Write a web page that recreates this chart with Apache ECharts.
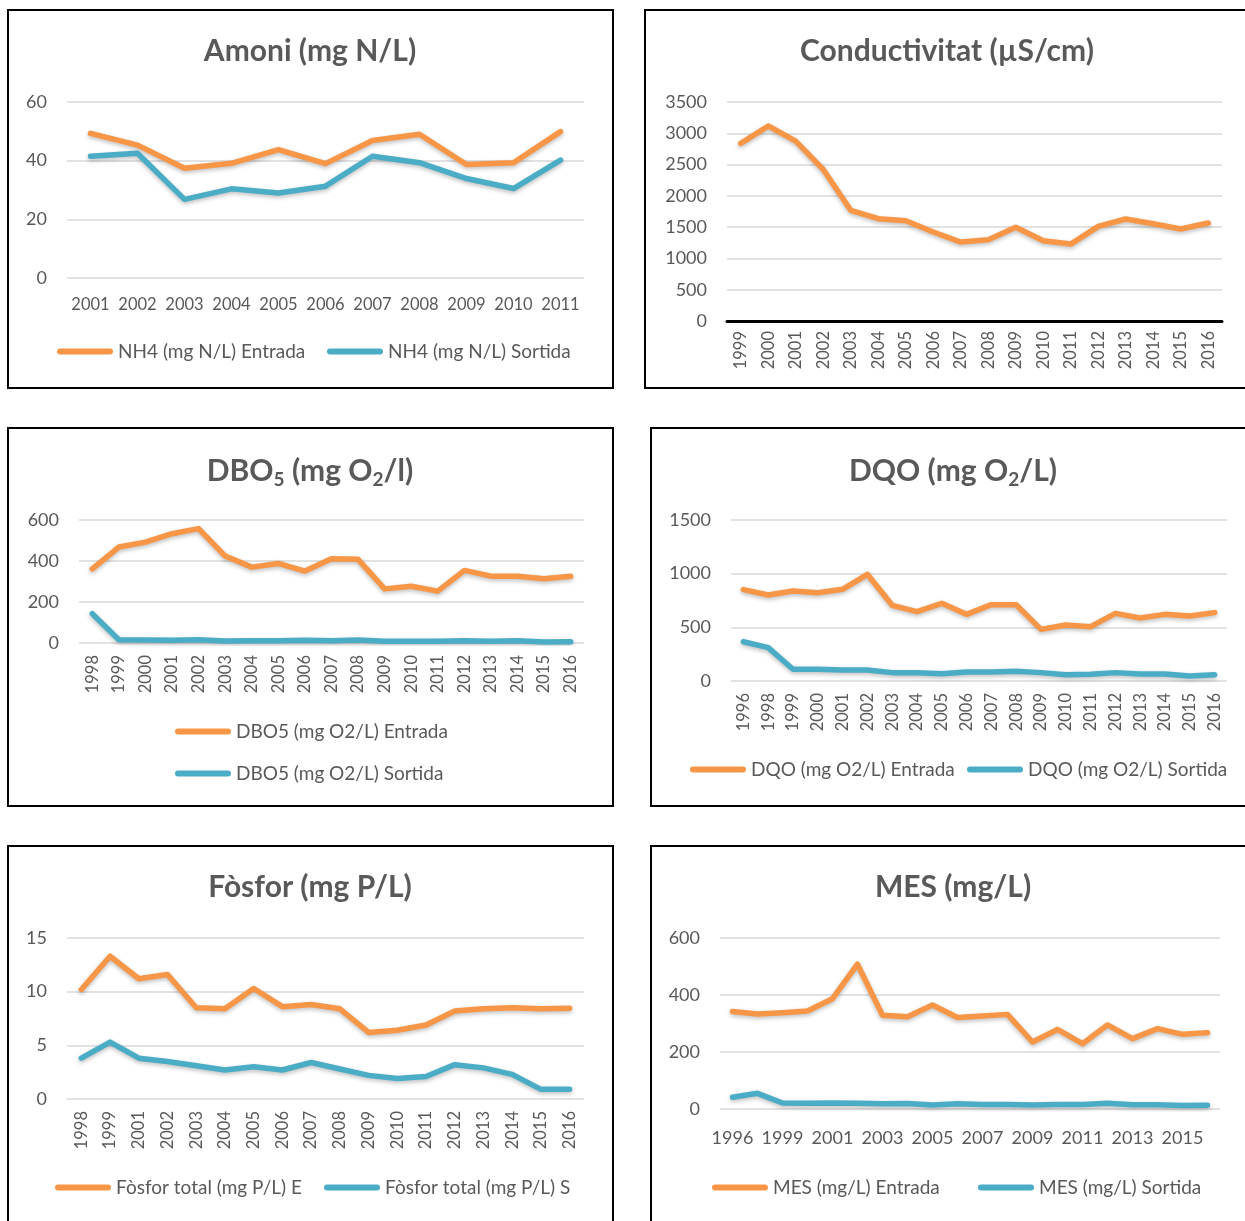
<!DOCTYPE html>
<html>
<head>
<meta charset="utf-8">
<script src="https://cdn.jsdelivr.net/npm/echarts@6/dist/echarts.min.js"></script>
<style>
  body { margin: 0; background: #fff; }
  #main { width: 1245px; height: 1221px; }
</style>
</head>
<body>
<div id="main"></div>
<script>
// dades
const amoniYears = ['2001', '2002', '2003', '2004', '2005', '2006', '2007', '2008', '2009', '2010', '2011'];
const amoniEntrada = [49.3, 45.3, 37.4, 39.1, 43.8, 39.0, 46.9, 49.0, 38.7, 39.3, 49.9];
const amoniSortida = [41.5, 42.5, 26.8, 30.4, 29.0, 31.3, 41.5, 39.3, 33.9, 30.5, 40.2];

const condYears = ['1999', '2000', '2001', '2002', '2003', '2004', '2005', '2006', '2007', '2008', '2009', '2010', '2011', '2012', '2013', '2014', '2015', '2016'];
const condValues = [2838, 3116, 2875, 2421, 1769, 1635, 1603, 1422, 1261, 1299, 1497, 1283, 1229, 1513, 1630, 1555, 1470, 1566];

const dboYears = ['1998', '1999', '2000', '2001', '2002', '2003', '2004', '2005', '2006', '2007', '2008', '2009', '2010', '2011', '2012', '2013', '2014', '2015', '2016'];
const dboEntrada = [362, 468, 492, 533, 558, 424, 370, 388, 351, 411, 408, 264, 277, 253, 354, 326, 326, 313, 326];
const dboSortida = [143, 16, 15, 13, 16, 10, 11, 11, 13, 11, 15, 8, 8, 8, 11, 8, 11, 5, 6];

const dqoYears = ['1996', '1998', '1999', '2000', '2001', '2002', '2003', '2004', '2005', '2006', '2007', '2008', '2009', '2010', '2011', '2012', '2013', '2014', '2015', '2016'];
const dqoEntrada = [851, 801, 839, 823, 854, 994, 705, 646, 724, 621, 711, 711, 481, 522, 506, 630, 587, 621, 606, 637];
const dqoSortida = [366, 311, 109, 109, 102, 102, 78, 78, 68, 84, 84, 90, 78, 59, 62, 78, 65, 65, 47, 59];

const fosYears = ['1998', '1999', '2001', '2002', '2003', '2004', '2005', '2006', '2007', '2008', '2009', '2010', '2011', '2012', '2013', '2014', '2015', '2016'];
const fosEntrada = [10.2, 13.3, 11.2, 11.6, 8.5, 8.4, 10.3, 8.6, 8.8, 8.4, 6.2, 6.4, 6.9, 8.2, 8.4, 8.5, 8.4, 8.45];
const fosSortida = [3.8, 5.3, 3.8, 3.5, 3.1, 2.7, 3.0, 2.7, 3.4, 2.8, 2.2, 1.9, 2.1, 3.2, 2.9, 2.3, 0.9, 0.9];

const mesYears = ['1996', '1998', '1999', '2000', '2001', '2002', '2003', '2004', '2005', '2006', '2007', '2008', '2009', '2010', '2011', '2012', '2013', '2014', '2015', '2016'];
const mesEntrada = [342, 333, 338, 344, 387, 508, 329, 324, 365, 321, 326, 332, 235, 279, 229, 295, 247, 282, 262, 268];
const mesSortida = [41, 55, 21, 20, 21, 20, 18, 19, 14, 18, 16, 16, 14, 16, 16, 20, 15, 15, 12, 13];

const ORANGE = '#F79646';
const BLUE = '#4BACC6';
const TXT = '#595959';
const FONT = 'Lato';
const stadium = 'path://M3,0 L53,0 A3,3 0 0 1 53,6 L3,6 A3,3 0 0 1 3,0 Z';

const option = {
    animation: false,
    backgroundColor: '#fff',
    textStyle: { fontFamily: FONT },
    title: [],
    legend: [],
    grid: [],
    xAxis: [],
    yAxis: [],
    series: [],
    graphic: []
};

// marc negre de cada gràfic
const frames = [
    [8, 10, 605, 378], [645, 10, 610, 378],
    [8, 428, 605, 378], [651, 428, 604, 378],
    [8, 846, 605, 390], [651, 846, 604, 390]
];
frames.forEach(f => {
    option.graphic.push({
        type: 'rect', shape: { x: f[0], y: f[1], width: f[2], height: f[3] },
        style: { fill: null, stroke: '#000', lineWidth: 2 }, silent: true
    });
});

function addPanel(p) {
    const i = option.grid.length;
    option.grid.push({ left: p.grid[0], top: p.grid[1], width: p.grid[2], height: p.grid[3], containLabel: false });
    option.title.push({
        text: p.title,
        left: p.titleX, top: p.titleY, textAlign: 'center', padding: 0,
        textStyle: {
            fontFamily: FONT, fontSize: 30, fontWeight: 'bold', color: TXT,
            rich: {
                b: { fontFamily: FONT, fontSize: 30, fontWeight: 'bold', color: TXT, lineHeight: 36 },
                s: { fontFamily: FONT, fontSize: 19, fontWeight: 'bold', color: TXT, lineHeight: 19, verticalAlign: 'bottom' }
            }
        }
    });
    option.xAxis.push({
        type: 'category', gridIndex: i, data: p.cats, boundaryGap: true,
        axisTick: { show: false },
        axisLine: p.blackAxis ? { show: true, lineStyle: { color: '#000', width: 3 } } : { show: false },
        axisLabel: {
            color: TXT, fontFamily: FONT, fontSize: p.xFont, rotate: p.rotate ? 90 : 0,
            margin: p.xMargin, interval: p.xInterval || 0
        }
    });
    option.yAxis.push({
        type: 'value', gridIndex: i, min: 0, max: p.max, interval: p.step,
        axisLine: { show: false }, axisTick: { show: false },
        splitLine: { lineStyle: { color: '#D9D9D9', width: 1.5 } },
        axisLabel: { color: TXT, fontFamily: FONT, fontSize: 18, margin: 20, formatter: v => String(v) }
    });
    p.series.forEach(s => {
        option.series.push({
            type: 'line', name: s.name, xAxisIndex: i, yAxisIndex: i, data: s.data,
            symbol: 'none', color: s.color,
            lineStyle: {
                color: s.color, width: 5.5, cap: 'round', join: 'round',
                shadowColor: 'rgba(0,0,0,0.25)', shadowBlur: 4, shadowOffsetY: 2
            }
        });
        if (s.legend) {
            option.legend.push({
                data: [s.name], left: s.legend[0], top: s.legend[1], padding: 0,
                icon: stadium, itemWidth: 56, itemHeight: 6, selectedMode: false,
                textStyle: { color: TXT, fontFamily: FONT, fontSize: 19 }
            });
        }
    });
}

addPanel({
    title: 'Amoni (mg N/L)', titleX: 310, titleY: 36,
    grid: [67, 102, 517, 176], cats: amoniYears, max: 60, step: 20,
    xFont: 16.5, xMargin: 18,
    series: [
        { name: 'NH4 (mg N/L) Entrada', data: amoniEntrada, color: ORANGE, legend: [57, 342] },
        { name: 'NH4 (mg N/L) Sortida', data: amoniSortida, color: BLUE, legend: [327, 342] }
    ]
});
addPanel({
    title: 'Conductivitat (µS/cm)', titleX: 947, titleY: 36,
    grid: [727, 102, 495, 219], cats: condYears, max: 3500, step: 500,
    xFont: 16.5, xMargin: 10, rotate: true, blackAxis: true,
    series: [
        { name: 'Conductivitat (µS/cm)', data: condValues, color: ORANGE }
    ]
});
addPanel({
    title: '{b|DBO}{s|5}{b| (mg O}{s|2}{b|/l)}', titleX: 310, titleY: 453,
    grid: [79, 520, 505, 123], cats: dboYears, max: 600, step: 200,
    xFont: 16.5, xMargin: 12, rotate: true,
    series: [
        { name: 'DBO5 (mg O2/L) Entrada', data: dboEntrada, color: ORANGE, legend: [175, 722] },
        { name: 'DBO5 (mg O2/L) Sortida', data: dboSortida, color: BLUE, legend: [175, 764] }
    ]
});
addPanel({
    title: '{b|DQO (mg O}{s|2}{b|/L)}', titleX: 953, titleY: 453,
    grid: [731, 520, 496, 161], cats: dqoYears, max: 1500, step: 500,
    xFont: 16.5, xMargin: 12, rotate: true,
    series: [
        { name: 'DQO (mg O2/L) Entrada', data: dqoEntrada, color: ORANGE, legend: [690, 760] },
        { name: 'DQO (mg O2/L) Sortida', data: dqoSortida, color: BLUE, legend: [967, 760] }
    ]
});
addPanel({
    title: 'Fòsfor (mg P/L)', titleX: 310, titleY: 872,
    grid: [67, 938, 517, 161], cats: fosYears, max: 15, step: 5,
    xFont: 16.5, xMargin: 12, rotate: true,
    series: [
        { name: 'Fòsfor total (mg P/L) E', data: fosEntrada, color: ORANGE, legend: [55, 1178] },
        { name: 'Fòsfor total (mg P/L) S', data: fosSortida, color: BLUE, legend: [324, 1178] }
    ]
});
addPanel({
    title: 'MES (mg/L)', titleX: 953, titleY: 872,
    grid: [720, 938, 500, 171], cats: mesYears, max: 600, step: 200,
    xFont: 18, xMargin: 20, xInterval: 1,
    series: [
        { name: 'MES (mg/L) Entrada', data: mesEntrada, color: ORANGE, legend: [712, 1178] },
        { name: 'MES (mg/L) Sortida', data: mesSortida, color: BLUE, legend: [978, 1178] }
    ]
});

const myChart = echarts.init(document.getElementById('main'));
myChart.setOption(option);
</script>
</body>
</html>
